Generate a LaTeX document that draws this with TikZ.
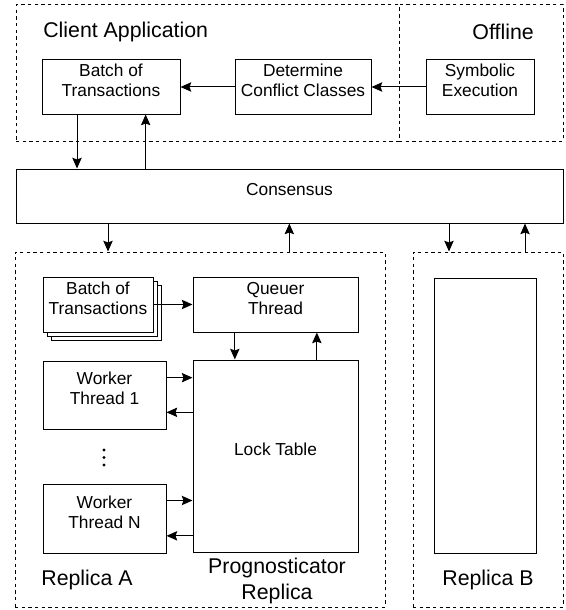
\documentclass[tikz,border=0pt]{standalone}
\usepackage{fontspec}
\setmainfont{Liberation Sans}
\usepackage{tikz}
\usetikzlibrary{arrows.meta, positioning, fit, calc}
\tikzset{
    box/.style={rectangle, draw=black, line width=0.75pt, fill=white, align=center, inner sep=0pt, font=\fontsize{13}{15}\selectfont},
    group/.style={rectangle, draw=black, line width=0.75pt, dash pattern=on 2.5pt off 2.5pt, inner sep=0pt},
    arrow/.style={-{Stealth[length=8pt, width=7pt, inset=1.2pt]}, line width=0.75pt},
    title/.style={font=\fontsize{16}{20}\selectfont, align=center, inner sep=0pt},
    dot/.style={circle, fill=black, inner sep=0pt, minimum size=2.4pt}
}

\begin{document}
\begin{tikzpicture}[x=0.75pt, y=-0.75pt]
    \useasboundingbox (0,0) rectangle (566,610);

    % Groups (dashed)
    \node[group, fit={(16,5) (399,141)}] (client) {};
    \node[group, fit={(399,5) (563,141)}] (offline) {};
    \node[group, fit={(15,252) (385,607)}] (repA) {};
    \node[group, fit={(413,252) (563,607)}] (repB) {};

    % Group titles
    \node[title, anchor=west] (clientlbl) at (43,32) {Client Application};
    \node[title, anchor=east] (offlinelbl) at (534,32) {Offline};
    \node[title] (repAlbl) at (87,580) {Replica A};
    \node[title] (proglbl) at (277,581) {Prognosticator\\Replica};
    \node[title] (repBlbl) at (488,580) {Replica B};

    % Client side
    \node[box, fit={(42,60) (180,114)}] (batch) {Batch of\\Transactions};
    \node[box, fit={(235,60) (371,114)}] (det) {Determine\\Conflict Classes};
    \node[box, fit={(426,60) (534,114)}] (symb) {Symbolic\\Execution};

    % Consensus
    \node[box, fit={(16,169) (563,223)}] (cons) {Consensus};

    % Replica A
    \node[box, fit={(51,285) (161,340)}] (stackC) {};
    \node[box, fit={(47,281) (157,336)}] (stackB) {};
    \node[box, fit={(43,277) (153,332)}] (stack) {Batch of\\Transactions};
    \node[box, fit={(193,277) (358,332)}] (queuer) {Queuer\\Thread};
    \node[box, fit={(193,360) (358,552)}] (lock) {Lock Table};
    \node[box, fit={(43,361) (166,429)}] (w1) {Worker\\Thread 1};
    \node[box, fit={(43,484) (166,553)}] (wN) {Worker\\Thread N};
    \foreach \y [count=\i] in {450,457.5,465}
        \node[dot] (dot\i) at (104,\y) {};

    % Replica B
    \node[box, fit={(434,278) (536,553)}] (repBbox) {};

    % Client arrows
    \draw[arrow] (symb) -- (det);
    \draw[arrow] (det) -- (batch);
    \draw[arrow] ([xshift=-25.5pt]batch.south) -- ([xshift=-25.5pt]batch.south |- cons.north);
    \draw[arrow] ([xshift=26pt]batch.south |- cons.north) -- ([xshift=26pt]batch.south);

    % Consensus to replicas
    \draw[arrow] ([xshift=-69pt]repA.north |- cons.south) -- ([xshift=-69pt]repA.north);
    \draw[arrow] ([xshift=67pt]repA.north) -- ([xshift=67pt]repA.north |- cons.south);
    \draw[arrow] ([xshift=-29.25pt]repB.north |- cons.south) -- ([xshift=-29.25pt]repB.north);
    \draw[arrow] ([xshift=27.75pt]repB.north) -- ([xshift=27.75pt]repB.north |- cons.south);

    % Inside replica A
    \draw[arrow] (stack) -- (queuer);
    \draw[arrow] ([xshift=-30.5pt]queuer.south) -- ([xshift=-30.5pt]queuer.south |- lock.north);
    \draw[arrow] ([xshift=31pt]queuer.south |- lock.north) -- ([xshift=31pt]queuer.south);
    \draw[arrow] ([yshift=13pt]w1.east) -- ([yshift=13pt]w1.east -| lock.west);
    \draw[arrow] ([yshift=-13pt]w1.east -| lock.west) -- ([yshift=-13pt]w1.east);
    \draw[arrow] ([yshift=13.5pt]wN.east) -- ([yshift=13.5pt]wN.east -| lock.west);
    \draw[arrow] ([yshift=-13pt]wN.east -| lock.west) -- ([yshift=-13pt]wN.east);

\end{tikzpicture}
\end{document}
